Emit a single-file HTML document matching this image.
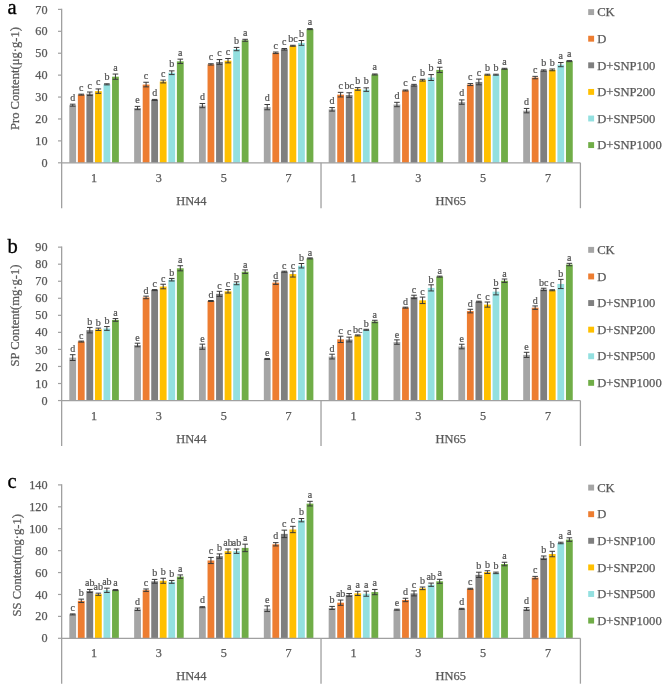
<!DOCTYPE html>
<html><head><meta charset="utf-8"><title>Chart</title>
<style>html,body{margin:0;padding:0;background:#fff;}body{width:669px;height:689px;overflow:hidden;}svg{display:block;filter:blur(0.35px);}text{font-family:"Liberation Serif", serif;}.t{fill:#595959;stroke:#595959;stroke-width:0.25px;}.l{fill:#505050;stroke:#505050;stroke-width:0.2px;}</style>
</head><body>
<svg width="669" height="689" viewBox="0 0 669 689">
<rect x="0" y="0" width="669" height="689" fill="#fff"/>
<text x="7.6" y="13.9" font-size="20.5" fill="#000" stroke="#000" stroke-width="0.35">a</text>
<text transform="translate(18.9 78.6) rotate(-90)" text-anchor="middle" font-size="12.6" class="t">Pro Content(μg·g-1)</text>
<text x="47.5" y="166.9" text-anchor="end" font-size="12.2" class="t">0</text>
<line x1="58" y1="162.8" x2="61.65" y2="162.8" stroke="#A0A0A0" stroke-width="1.2"/>
<text x="47.5" y="144.99" text-anchor="end" font-size="12.2" class="t">10</text>
<line x1="58" y1="140.89" x2="61.65" y2="140.89" stroke="#A0A0A0" stroke-width="1.2"/>
<text x="47.5" y="123.07" text-anchor="end" font-size="12.2" class="t">20</text>
<line x1="58" y1="118.97" x2="61.65" y2="118.97" stroke="#A0A0A0" stroke-width="1.2"/>
<text x="47.5" y="101.16" text-anchor="end" font-size="12.2" class="t">30</text>
<line x1="58" y1="97.06" x2="61.65" y2="97.06" stroke="#A0A0A0" stroke-width="1.2"/>
<text x="47.5" y="79.24" text-anchor="end" font-size="12.2" class="t">40</text>
<line x1="58" y1="75.14" x2="61.65" y2="75.14" stroke="#A0A0A0" stroke-width="1.2"/>
<text x="47.5" y="57.33" text-anchor="end" font-size="12.2" class="t">50</text>
<line x1="58" y1="53.23" x2="61.65" y2="53.23" stroke="#A0A0A0" stroke-width="1.2"/>
<text x="47.5" y="35.41" text-anchor="end" font-size="12.2" class="t">60</text>
<line x1="58" y1="31.31" x2="61.65" y2="31.31" stroke="#A0A0A0" stroke-width="1.2"/>
<text x="47.5" y="13.5" text-anchor="end" font-size="12.2" class="t">70</text>
<line x1="58" y1="9.4" x2="61.65" y2="9.4" stroke="#A0A0A0" stroke-width="1.2"/>
<rect x="69.3" y="105.17" width="6.8" height="57.63" fill="#A5A5A5"/>
<rect x="77.85" y="94.65" width="6.8" height="68.15" fill="#ED7D31"/>
<rect x="86.4" y="93.77" width="6.8" height="69.03" fill="#7F7F7F"/>
<rect x="94.95" y="91.14" width="6.8" height="71.66" fill="#FFC000"/>
<rect x="103.5" y="84.35" width="6.8" height="78.45" fill="#93E0E0"/>
<rect x="112.05" y="76.68" width="6.8" height="86.12" fill="#70AD47"/>
<path d="M69.9 104.18H75.5M72.7 104.18V106.15M69.9 106.15H75.5" stroke="#3A3A3A" stroke-width="1" fill="none"/>
<text x="72.7" y="100.68" text-anchor="middle" font-size="10" class="l">d</text>
<path d="M78.45 94.15H84.05M81.25 94.15V95.15M78.45 95.15H84.05" stroke="#3A3A3A" stroke-width="1" fill="none"/>
<text x="81.25" y="90.65" text-anchor="middle" font-size="10" class="l">c</text>
<path d="M87 92.02H92.6M89.8 92.02V95.52M87 95.52H92.6" stroke="#3A3A3A" stroke-width="1" fill="none"/>
<text x="89.8" y="88.52" text-anchor="middle" font-size="10" class="l">c</text>
<path d="M95.55 88.95H101.15M98.35 88.95V93.33M95.55 93.33H101.15" stroke="#3A3A3A" stroke-width="1" fill="none"/>
<text x="98.35" y="85.45" text-anchor="middle" font-size="10" class="l">c</text>
<path d="M104.1 83.8H109.7M106.9 83.8V84.89M104.1 84.89H109.7" stroke="#3A3A3A" stroke-width="1" fill="none"/>
<text x="106.9" y="80.3" text-anchor="middle" font-size="10" class="l">b</text>
<path d="M112.65 74.05H118.25M115.45 74.05V79.31M112.65 79.31H118.25" stroke="#3A3A3A" stroke-width="1" fill="none"/>
<text x="115.45" y="70.55" text-anchor="middle" font-size="10" class="l">a</text>
<rect x="134.14" y="108.01" width="6.8" height="54.79" fill="#A5A5A5"/>
<rect x="142.69" y="84.57" width="6.8" height="78.23" fill="#ED7D31"/>
<rect x="151.24" y="99.91" width="6.8" height="62.89" fill="#7F7F7F"/>
<rect x="159.79" y="81.5" width="6.8" height="81.3" fill="#FFC000"/>
<rect x="168.34" y="72.73" width="6.8" height="90.07" fill="#93E0E0"/>
<rect x="176.89" y="61.34" width="6.8" height="101.46" fill="#70AD47"/>
<path d="M134.74 106.37H140.34M137.54 106.37V109.66M134.74 109.66H140.34" stroke="#3A3A3A" stroke-width="1" fill="none"/>
<text x="137.54" y="102.87" text-anchor="middle" font-size="10" class="l">e</text>
<path d="M143.29 82.26H148.89M146.09 82.26V86.87M143.29 86.87H148.89" stroke="#3A3A3A" stroke-width="1" fill="none"/>
<text x="146.09" y="78.76" text-anchor="middle" font-size="10" class="l">c</text>
<path d="M151.84 99.41H157.44M154.64 99.41V100.41M151.84 100.41H157.44" stroke="#3A3A3A" stroke-width="1" fill="none"/>
<text x="154.64" y="95.91" text-anchor="middle" font-size="10" class="l">d</text>
<path d="M160.39 80.07H165.99M163.19 80.07V82.92M160.39 82.92H165.99" stroke="#3A3A3A" stroke-width="1" fill="none"/>
<text x="163.19" y="76.57" text-anchor="middle" font-size="10" class="l">c</text>
<path d="M168.94 70.87H174.54M171.74 70.87V74.59M168.94 74.59H174.54" stroke="#3A3A3A" stroke-width="1" fill="none"/>
<text x="171.74" y="67.37" text-anchor="middle" font-size="10" class="l">b</text>
<path d="M177.49 59.15H183.09M180.29 59.15V63.53M177.49 63.53H183.09" stroke="#3A3A3A" stroke-width="1" fill="none"/>
<text x="180.29" y="55.65" text-anchor="middle" font-size="10" class="l">a</text>
<rect x="198.98" y="105.6" width="6.8" height="57.2" fill="#A5A5A5"/>
<rect x="207.53" y="64.4" width="6.8" height="98.4" fill="#ED7D31"/>
<rect x="216.08" y="61.99" width="6.8" height="100.81" fill="#7F7F7F"/>
<rect x="224.63" y="60.68" width="6.8" height="102.12" fill="#FFC000"/>
<rect x="233.18" y="49.06" width="6.8" height="113.74" fill="#93E0E0"/>
<rect x="241.73" y="40.3" width="6.8" height="122.5" fill="#70AD47"/>
<path d="M199.58 103.52H205.18M202.38 103.52V107.69M199.58 107.69H205.18" stroke="#3A3A3A" stroke-width="1" fill="none"/>
<text x="202.38" y="100.02" text-anchor="middle" font-size="10" class="l">d</text>
<path d="M208.13 63.75H213.73M210.93 63.75V65.06M208.13 65.06H213.73" stroke="#3A3A3A" stroke-width="1" fill="none"/>
<text x="210.93" y="60.25" text-anchor="middle" font-size="10" class="l">c</text>
<path d="M216.68 59.58H222.28M219.48 59.58V64.4M216.68 64.4H222.28" stroke="#3A3A3A" stroke-width="1" fill="none"/>
<text x="219.48" y="56.08" text-anchor="middle" font-size="10" class="l">c</text>
<path d="M225.23 58.49H230.83M228.03 58.49V62.87M225.23 62.87H230.83" stroke="#3A3A3A" stroke-width="1" fill="none"/>
<text x="228.03" y="54.99" text-anchor="middle" font-size="10" class="l">c</text>
<path d="M233.78 47.42H239.38M236.58 47.42V50.71M233.78 50.71H239.38" stroke="#3A3A3A" stroke-width="1" fill="none"/>
<text x="236.58" y="43.92" text-anchor="middle" font-size="10" class="l">b</text>
<path d="M242.33 39.31H247.93M245.13 39.31V41.29M242.33 41.29H247.93" stroke="#3A3A3A" stroke-width="1" fill="none"/>
<text x="245.13" y="35.81" text-anchor="middle" font-size="10" class="l">a</text>
<rect x="263.83" y="107.14" width="6.8" height="55.66" fill="#A5A5A5"/>
<rect x="272.38" y="52.79" width="6.8" height="110.01" fill="#ED7D31"/>
<rect x="280.93" y="49.28" width="6.8" height="113.52" fill="#7F7F7F"/>
<rect x="289.48" y="45.78" width="6.8" height="117.02" fill="#FFC000"/>
<rect x="298.03" y="42.93" width="6.8" height="119.87" fill="#93E0E0"/>
<rect x="306.58" y="29.12" width="6.8" height="133.68" fill="#70AD47"/>
<path d="M264.43 104.51H270.03M267.23 104.51V109.77M264.43 109.77H270.03" stroke="#3A3A3A" stroke-width="1" fill="none"/>
<text x="267.23" y="101.01" text-anchor="middle" font-size="10" class="l">d</text>
<path d="M272.98 52.02H278.58M275.78 52.02V53.56M272.98 53.56H278.58" stroke="#3A3A3A" stroke-width="1" fill="none"/>
<text x="275.78" y="48.52" text-anchor="middle" font-size="10" class="l">c</text>
<path d="M281.53 48.52H287.13M284.33 48.52V50.05M281.53 50.05H287.13" stroke="#3A3A3A" stroke-width="1" fill="none"/>
<text x="284.33" y="45.02" text-anchor="middle" font-size="10" class="l">c</text>
<path d="M290.08 45.28H295.68M292.88 45.28V46.28M290.08 46.28H295.68" stroke="#3A3A3A" stroke-width="1" fill="none"/>
<text x="292.88" y="41.78" text-anchor="middle" font-size="10" class="l">bc</text>
<path d="M298.63 40.52H304.23M301.43 40.52V45.34M298.63 45.34H304.23" stroke="#3A3A3A" stroke-width="1" fill="none"/>
<text x="301.43" y="37.02" text-anchor="middle" font-size="10" class="l">b</text>
<path d="M307.18 28.62H312.78M309.98 28.62V29.62M307.18 29.62H312.78" stroke="#3A3A3A" stroke-width="1" fill="none"/>
<text x="309.98" y="25.12" text-anchor="middle" font-size="10" class="l">a</text>
<rect x="328.67" y="109.33" width="6.8" height="53.47" fill="#A5A5A5"/>
<rect x="337.22" y="94.65" width="6.8" height="68.15" fill="#ED7D31"/>
<rect x="345.77" y="95.08" width="6.8" height="67.72" fill="#7F7F7F"/>
<rect x="354.32" y="88.95" width="6.8" height="73.85" fill="#FFC000"/>
<rect x="362.87" y="89.61" width="6.8" height="73.19" fill="#93E0E0"/>
<rect x="371.42" y="74.49" width="6.8" height="88.31" fill="#70AD47"/>
<path d="M329.27 107.58H334.87M332.07 107.58V111.08M329.27 111.08H334.87" stroke="#3A3A3A" stroke-width="1" fill="none"/>
<text x="332.07" y="104.08" text-anchor="middle" font-size="10" class="l">d</text>
<path d="M337.82 92.35H343.42M340.62 92.35V96.95M337.82 96.95H343.42" stroke="#3A3A3A" stroke-width="1" fill="none"/>
<text x="340.62" y="88.85" text-anchor="middle" font-size="10" class="l">c</text>
<path d="M346.37 92.78H351.97M349.17 92.78V97.39M346.37 97.39H351.97" stroke="#3A3A3A" stroke-width="1" fill="none"/>
<text x="349.17" y="89.28" text-anchor="middle" font-size="10" class="l">bc</text>
<path d="M354.92 87.63H360.52M357.72 87.63V90.26M354.92 90.26H360.52" stroke="#3A3A3A" stroke-width="1" fill="none"/>
<text x="357.72" y="84.13" text-anchor="middle" font-size="10" class="l">b</text>
<path d="M363.47 87.85H369.07M366.27 87.85V91.36M363.47 91.36H369.07" stroke="#3A3A3A" stroke-width="1" fill="none"/>
<text x="366.27" y="84.35" text-anchor="middle" font-size="10" class="l">b</text>
<path d="M372.02 73.99H377.62M374.82 73.99V74.99M372.02 74.99H377.62" stroke="#3A3A3A" stroke-width="1" fill="none"/>
<text x="374.82" y="70.49" text-anchor="middle" font-size="10" class="l">a</text>
<rect x="393.52" y="104.51" width="6.8" height="58.29" fill="#A5A5A5"/>
<rect x="402.07" y="90.48" width="6.8" height="72.32" fill="#ED7D31"/>
<rect x="410.62" y="85.22" width="6.8" height="77.58" fill="#7F7F7F"/>
<rect x="419.17" y="80.18" width="6.8" height="82.62" fill="#FFC000"/>
<rect x="427.72" y="77.55" width="6.8" height="85.25" fill="#93E0E0"/>
<rect x="436.27" y="69.88" width="6.8" height="92.92" fill="#70AD47"/>
<path d="M394.12 102.32H399.72M396.92 102.32V106.7M394.12 106.7H399.72" stroke="#3A3A3A" stroke-width="1" fill="none"/>
<text x="396.92" y="98.82" text-anchor="middle" font-size="10" class="l">d</text>
<path d="M402.67 89.98H408.27M405.47 89.98V90.98M402.67 90.98H408.27" stroke="#3A3A3A" stroke-width="1" fill="none"/>
<text x="405.47" y="86.48" text-anchor="middle" font-size="10" class="l">c</text>
<path d="M411.22 84.35H416.82M414.02 84.35V86.1M411.22 86.1H416.82" stroke="#3A3A3A" stroke-width="1" fill="none"/>
<text x="414.02" y="80.85" text-anchor="middle" font-size="10" class="l">c</text>
<path d="M419.77 79.31H425.37M422.57 79.31V81.06M419.77 81.06H425.37" stroke="#3A3A3A" stroke-width="1" fill="none"/>
<text x="422.57" y="75.81" text-anchor="middle" font-size="10" class="l">b</text>
<path d="M428.32 74.59H433.92M431.12 74.59V80.51M428.32 80.51H433.92" stroke="#3A3A3A" stroke-width="1" fill="none"/>
<text x="431.12" y="71.09" text-anchor="middle" font-size="10" class="l">b</text>
<path d="M436.87 67.25H442.47M439.67 67.25V72.51M436.87 72.51H442.47" stroke="#3A3A3A" stroke-width="1" fill="none"/>
<text x="439.67" y="63.75" text-anchor="middle" font-size="10" class="l">a</text>
<rect x="458.36" y="102.1" width="6.8" height="60.7" fill="#A5A5A5"/>
<rect x="466.91" y="84.57" width="6.8" height="78.23" fill="#ED7D31"/>
<rect x="475.46" y="81.94" width="6.8" height="80.86" fill="#7F7F7F"/>
<rect x="484.01" y="74.7" width="6.8" height="88.1" fill="#FFC000"/>
<rect x="492.56" y="74.7" width="6.8" height="88.1" fill="#93E0E0"/>
<rect x="501.11" y="68.79" width="6.8" height="94.01" fill="#70AD47"/>
<path d="M458.96 99.91H464.56M461.76 99.91V104.29M458.96 104.29H464.56" stroke="#3A3A3A" stroke-width="1" fill="none"/>
<text x="461.76" y="96.41" text-anchor="middle" font-size="10" class="l">d</text>
<path d="M467.51 83.58H473.11M470.31 83.58V85.55M467.51 85.55H473.11" stroke="#3A3A3A" stroke-width="1" fill="none"/>
<text x="470.31" y="80.08" text-anchor="middle" font-size="10" class="l">c</text>
<path d="M476.06 79.09H481.66M478.86 79.09V84.79M476.06 84.79H481.66" stroke="#3A3A3A" stroke-width="1" fill="none"/>
<text x="478.86" y="75.59" text-anchor="middle" font-size="10" class="l">c</text>
<path d="M484.61 74.2H490.21M487.41 74.2V75.2M484.61 75.2H490.21" stroke="#3A3A3A" stroke-width="1" fill="none"/>
<text x="487.41" y="70.7" text-anchor="middle" font-size="10" class="l">b</text>
<path d="M493.16 74.2H498.76M495.96 74.2V75.2M493.16 75.2H498.76" stroke="#3A3A3A" stroke-width="1" fill="none"/>
<text x="495.96" y="70.7" text-anchor="middle" font-size="10" class="l">b</text>
<path d="M501.71 68.29H507.31M504.51 68.29V69.29M501.71 69.29H507.31" stroke="#3A3A3A" stroke-width="1" fill="none"/>
<text x="504.51" y="64.79" text-anchor="middle" font-size="10" class="l">a</text>
<rect x="523.2" y="110.64" width="6.8" height="52.16" fill="#A5A5A5"/>
<rect x="531.75" y="77.55" width="6.8" height="85.25" fill="#ED7D31"/>
<rect x="540.3" y="70.54" width="6.8" height="92.26" fill="#7F7F7F"/>
<rect x="548.85" y="69.88" width="6.8" height="92.92" fill="#FFC000"/>
<rect x="557.4" y="64.62" width="6.8" height="98.18" fill="#93E0E0"/>
<rect x="565.95" y="61.12" width="6.8" height="101.68" fill="#70AD47"/>
<path d="M523.8 108.45H529.4M526.6 108.45V112.84M523.8 112.84H529.4" stroke="#3A3A3A" stroke-width="1" fill="none"/>
<text x="526.6" y="104.95" text-anchor="middle" font-size="10" class="l">d</text>
<path d="M532.35 76.35H537.95M535.15 76.35V78.76M532.35 78.76H537.95" stroke="#3A3A3A" stroke-width="1" fill="none"/>
<text x="535.15" y="72.85" text-anchor="middle" font-size="10" class="l">c</text>
<path d="M540.9 69.88H546.5M543.7 69.88V71.2M540.9 71.2H546.5" stroke="#3A3A3A" stroke-width="1" fill="none"/>
<text x="543.7" y="66.38" text-anchor="middle" font-size="10" class="l">b</text>
<path d="M549.45 69.01H555.05M552.25 69.01V70.76M549.45 70.76H555.05" stroke="#3A3A3A" stroke-width="1" fill="none"/>
<text x="552.25" y="65.51" text-anchor="middle" font-size="10" class="l">b</text>
<path d="M558 62.54H563.6M560.8 62.54V66.71M558 66.71H563.6" stroke="#3A3A3A" stroke-width="1" fill="none"/>
<text x="560.8" y="59.04" text-anchor="middle" font-size="10" class="l">a</text>
<path d="M566.55 60.62H572.15M569.35 60.62V61.62M566.55 61.62H572.15" stroke="#3A3A3A" stroke-width="1" fill="none"/>
<text x="569.35" y="57.12" text-anchor="middle" font-size="10" class="l">a</text>
<line x1="61.65" y1="8.8" x2="61.65" y2="208.2" stroke="#A0A0A0" stroke-width="1.3"/>
<line x1="61.65" y1="162.8" x2="580.4" y2="162.8" stroke="#A0A0A0" stroke-width="1.3"/>
<line x1="321.02" y1="162.8" x2="321.02" y2="208.2" stroke="#A0A0A0" stroke-width="1.3"/>
<line x1="580.4" y1="162.8" x2="580.4" y2="208.2" stroke="#A0A0A0" stroke-width="1.3"/>
<text x="94.07" y="182.2" text-anchor="middle" font-size="12.2" class="t">1</text>
<text x="158.92" y="182.2" text-anchor="middle" font-size="12.2" class="t">3</text>
<text x="223.76" y="182.2" text-anchor="middle" font-size="12.2" class="t">5</text>
<text x="288.6" y="182.2" text-anchor="middle" font-size="12.2" class="t">7</text>
<text x="353.45" y="182.2" text-anchor="middle" font-size="12.2" class="t">1</text>
<text x="418.29" y="182.2" text-anchor="middle" font-size="12.2" class="t">3</text>
<text x="483.13" y="182.2" text-anchor="middle" font-size="12.2" class="t">5</text>
<text x="547.98" y="182.2" text-anchor="middle" font-size="12.2" class="t">7</text>
<text x="191.34" y="205.2" text-anchor="middle" font-size="12.4" class="t">HN44</text>
<text x="450.71" y="205.2" text-anchor="middle" font-size="12.4" class="t">HN65</text>
<rect x="588.2" y="9.15" width="5.9" height="5.9" fill="#A5A5A5"/>
<text x="597.2" y="16.3" font-size="12.6" class="t">CK</text>
<rect x="588.2" y="35.75" width="5.9" height="5.9" fill="#ED7D31"/>
<text x="597.2" y="42.9" font-size="12.6" class="t">D</text>
<rect x="588.2" y="62.35" width="5.9" height="5.9" fill="#7F7F7F"/>
<text x="597.2" y="69.5" font-size="12.6" class="t">D+SNP100</text>
<rect x="588.2" y="88.95" width="5.9" height="5.9" fill="#FFC000"/>
<text x="597.2" y="96.1" font-size="12.6" class="t">D+SNP200</text>
<rect x="588.2" y="115.55" width="5.9" height="5.9" fill="#93E0E0"/>
<text x="597.2" y="122.7" font-size="12.6" class="t">D+SNP500</text>
<rect x="588.2" y="142.15" width="5.9" height="5.9" fill="#70AD47"/>
<text x="597.2" y="149.3" font-size="12.6" class="t">D+SNP1000</text>
<text x="7.6" y="253.05" font-size="20.5" fill="#000" stroke="#000" stroke-width="0.35">b</text>
<text transform="translate(19.1 315.5) rotate(-90)" text-anchor="middle" font-size="12.6" class="t">SP Content(mg·g-1)</text>
<text x="47.5" y="404.65" text-anchor="end" font-size="12.2" class="t">0</text>
<line x1="58" y1="400.55" x2="61.65" y2="400.55" stroke="#A0A0A0" stroke-width="1.2"/>
<text x="47.5" y="387.61" text-anchor="end" font-size="12.2" class="t">10</text>
<line x1="58" y1="383.51" x2="61.65" y2="383.51" stroke="#A0A0A0" stroke-width="1.2"/>
<text x="47.5" y="370.56" text-anchor="end" font-size="12.2" class="t">20</text>
<line x1="58" y1="366.46" x2="61.65" y2="366.46" stroke="#A0A0A0" stroke-width="1.2"/>
<text x="47.5" y="353.52" text-anchor="end" font-size="12.2" class="t">30</text>
<line x1="58" y1="349.42" x2="61.65" y2="349.42" stroke="#A0A0A0" stroke-width="1.2"/>
<text x="47.5" y="336.47" text-anchor="end" font-size="12.2" class="t">40</text>
<line x1="58" y1="332.37" x2="61.65" y2="332.37" stroke="#A0A0A0" stroke-width="1.2"/>
<text x="47.5" y="319.43" text-anchor="end" font-size="12.2" class="t">50</text>
<line x1="58" y1="315.33" x2="61.65" y2="315.33" stroke="#A0A0A0" stroke-width="1.2"/>
<text x="47.5" y="302.38" text-anchor="end" font-size="12.2" class="t">60</text>
<line x1="58" y1="298.28" x2="61.65" y2="298.28" stroke="#A0A0A0" stroke-width="1.2"/>
<text x="47.5" y="285.34" text-anchor="end" font-size="12.2" class="t">70</text>
<line x1="58" y1="281.24" x2="61.65" y2="281.24" stroke="#A0A0A0" stroke-width="1.2"/>
<text x="47.5" y="268.29" text-anchor="end" font-size="12.2" class="t">80</text>
<line x1="58" y1="264.19" x2="61.65" y2="264.19" stroke="#A0A0A0" stroke-width="1.2"/>
<text x="47.5" y="251.25" text-anchor="end" font-size="12.2" class="t">90</text>
<line x1="58" y1="247.15" x2="61.65" y2="247.15" stroke="#A0A0A0" stroke-width="1.2"/>
<rect x="69.3" y="357.6" width="6.8" height="42.95" fill="#A5A5A5"/>
<rect x="77.85" y="341.58" width="6.8" height="58.97" fill="#ED7D31"/>
<rect x="86.4" y="330.16" width="6.8" height="70.39" fill="#7F7F7F"/>
<rect x="94.95" y="329.3" width="6.8" height="71.25" fill="#FFC000"/>
<rect x="103.5" y="328.45" width="6.8" height="72.1" fill="#93E0E0"/>
<rect x="112.05" y="319.93" width="6.8" height="80.62" fill="#70AD47"/>
<path d="M69.9 354.7H75.5M72.7 354.7V360.5M69.9 360.5H75.5" stroke="#3A3A3A" stroke-width="1" fill="none"/>
<text x="72.7" y="352.4" text-anchor="middle" font-size="10" class="l">d</text>
<path d="M78.45 341.08H84.05M81.25 341.08V342.08M78.45 342.08H84.05" stroke="#3A3A3A" stroke-width="1" fill="none"/>
<text x="81.25" y="338.78" text-anchor="middle" font-size="10" class="l">c</text>
<path d="M87 327.43H92.6M89.8 327.43V332.88M87 332.88H92.6" stroke="#3A3A3A" stroke-width="1" fill="none"/>
<text x="89.8" y="325.13" text-anchor="middle" font-size="10" class="l">b</text>
<path d="M95.55 328.11H101.15M98.35 328.11V330.5M95.55 330.5H101.15" stroke="#3A3A3A" stroke-width="1" fill="none"/>
<text x="98.35" y="325.81" text-anchor="middle" font-size="10" class="l">b</text>
<path d="M104.1 326.58H109.7M106.9 326.58V330.33M104.1 330.33H109.7" stroke="#3A3A3A" stroke-width="1" fill="none"/>
<text x="106.9" y="324.28" text-anchor="middle" font-size="10" class="l">b</text>
<path d="M112.65 318.57H118.25M115.45 318.57V321.29M112.65 321.29H118.25" stroke="#3A3A3A" stroke-width="1" fill="none"/>
<text x="115.45" y="316.27" text-anchor="middle" font-size="10" class="l">a</text>
<rect x="134.14" y="344.99" width="6.8" height="55.56" fill="#A5A5A5"/>
<rect x="142.69" y="297.43" width="6.8" height="103.12" fill="#ED7D31"/>
<rect x="151.24" y="290.1" width="6.8" height="110.45" fill="#7F7F7F"/>
<rect x="159.79" y="286.52" width="6.8" height="114.03" fill="#FFC000"/>
<rect x="168.34" y="279.7" width="6.8" height="120.85" fill="#93E0E0"/>
<rect x="176.89" y="268.29" width="6.8" height="132.26" fill="#70AD47"/>
<path d="M134.74 343.2H140.34M137.54 343.2V346.77M134.74 346.77H140.34" stroke="#3A3A3A" stroke-width="1" fill="none"/>
<text x="137.54" y="340.9" text-anchor="middle" font-size="10" class="l">e</text>
<path d="M143.29 296.15H148.89M146.09 296.15V298.71M143.29 298.71H148.89" stroke="#3A3A3A" stroke-width="1" fill="none"/>
<text x="146.09" y="293.85" text-anchor="middle" font-size="10" class="l">d</text>
<path d="M151.84 289.6H157.44M154.64 289.6V290.6M151.84 290.6H157.44" stroke="#3A3A3A" stroke-width="1" fill="none"/>
<text x="154.64" y="287.3" text-anchor="middle" font-size="10" class="l">c</text>
<path d="M160.39 284.22H165.99M163.19 284.22V288.82M160.39 288.82H165.99" stroke="#3A3A3A" stroke-width="1" fill="none"/>
<text x="163.19" y="281.92" text-anchor="middle" font-size="10" class="l">c</text>
<path d="M168.94 278.43H174.54M171.74 278.43V280.98M168.94 280.98H174.54" stroke="#3A3A3A" stroke-width="1" fill="none"/>
<text x="171.74" y="276.13" text-anchor="middle" font-size="10" class="l">b</text>
<path d="M177.49 265.73H183.09M180.29 265.73V270.84M177.49 270.84H183.09" stroke="#3A3A3A" stroke-width="1" fill="none"/>
<text x="180.29" y="263.43" text-anchor="middle" font-size="10" class="l">a</text>
<rect x="198.98" y="346.69" width="6.8" height="53.86" fill="#A5A5A5"/>
<rect x="207.53" y="301.01" width="6.8" height="99.54" fill="#ED7D31"/>
<rect x="216.08" y="293.85" width="6.8" height="106.7" fill="#7F7F7F"/>
<rect x="224.63" y="291.3" width="6.8" height="109.25" fill="#FFC000"/>
<rect x="233.18" y="283.28" width="6.8" height="117.27" fill="#93E0E0"/>
<rect x="241.73" y="271.69" width="6.8" height="128.86" fill="#70AD47"/>
<path d="M199.58 344.13H205.18M202.38 344.13V349.25M199.58 349.25H205.18" stroke="#3A3A3A" stroke-width="1" fill="none"/>
<text x="202.38" y="341.83" text-anchor="middle" font-size="10" class="l">e</text>
<path d="M208.13 300.51H213.73M210.93 300.51V301.51M208.13 301.51H213.73" stroke="#3A3A3A" stroke-width="1" fill="none"/>
<text x="210.93" y="298.21" text-anchor="middle" font-size="10" class="l">d</text>
<path d="M216.68 291.3H222.28M219.48 291.3V296.41M216.68 296.41H222.28" stroke="#3A3A3A" stroke-width="1" fill="none"/>
<text x="219.48" y="289" text-anchor="middle" font-size="10" class="l">c</text>
<path d="M225.23 289.59H230.83M228.03 289.59V293M225.23 293H230.83" stroke="#3A3A3A" stroke-width="1" fill="none"/>
<text x="228.03" y="287.29" text-anchor="middle" font-size="10" class="l">c</text>
<path d="M233.78 281.84H239.38M236.58 281.84V284.73M233.78 284.73H239.38" stroke="#3A3A3A" stroke-width="1" fill="none"/>
<text x="236.58" y="279.54" text-anchor="middle" font-size="10" class="l">b</text>
<path d="M242.33 269.9H247.93M245.13 269.9V273.48M242.33 273.48H247.93" stroke="#3A3A3A" stroke-width="1" fill="none"/>
<text x="245.13" y="267.6" text-anchor="middle" font-size="10" class="l">a</text>
<rect x="263.83" y="358.96" width="6.8" height="41.59" fill="#A5A5A5"/>
<rect x="272.38" y="282.6" width="6.8" height="117.95" fill="#ED7D31"/>
<rect x="280.93" y="271.69" width="6.8" height="128.86" fill="#7F7F7F"/>
<rect x="289.48" y="274.08" width="6.8" height="126.47" fill="#FFC000"/>
<rect x="298.03" y="265.73" width="6.8" height="134.82" fill="#93E0E0"/>
<rect x="306.58" y="258.4" width="6.8" height="142.15" fill="#70AD47"/>
<path d="M264.43 358.46H270.03M267.23 358.46V359.46M264.43 359.46H270.03" stroke="#3A3A3A" stroke-width="1" fill="none"/>
<text x="267.23" y="356.16" text-anchor="middle" font-size="10" class="l">e</text>
<path d="M272.98 280.81H278.58M275.78 280.81V284.39M272.98 284.39H278.58" stroke="#3A3A3A" stroke-width="1" fill="none"/>
<text x="275.78" y="278.51" text-anchor="middle" font-size="10" class="l">d</text>
<path d="M281.53 271.18H287.13M284.33 271.18V272.21M281.53 272.21H287.13" stroke="#3A3A3A" stroke-width="1" fill="none"/>
<text x="284.33" y="268.88" text-anchor="middle" font-size="10" class="l">c</text>
<path d="M290.08 271.1H295.68M292.88 271.1V277.06M290.08 277.06H295.68" stroke="#3A3A3A" stroke-width="1" fill="none"/>
<text x="292.88" y="268.8" text-anchor="middle" font-size="10" class="l">c</text>
<path d="M298.63 263.51H304.23M301.43 263.51V267.94M298.63 267.94H304.23" stroke="#3A3A3A" stroke-width="1" fill="none"/>
<text x="301.43" y="261.21" text-anchor="middle" font-size="10" class="l">b</text>
<path d="M307.18 257.9H312.78M309.98 257.9V258.9M307.18 258.9H312.78" stroke="#3A3A3A" stroke-width="1" fill="none"/>
<text x="309.98" y="255.6" text-anchor="middle" font-size="10" class="l">a</text>
<rect x="328.67" y="356.58" width="6.8" height="43.97" fill="#A5A5A5"/>
<rect x="337.22" y="339.36" width="6.8" height="61.19" fill="#ED7D31"/>
<rect x="345.77" y="339.53" width="6.8" height="61.02" fill="#7F7F7F"/>
<rect x="354.32" y="335.44" width="6.8" height="65.11" fill="#FFC000"/>
<rect x="362.87" y="329.82" width="6.8" height="70.73" fill="#93E0E0"/>
<rect x="371.42" y="321.46" width="6.8" height="79.09" fill="#70AD47"/>
<path d="M329.27 354.19H334.87M332.07 354.19V358.96M329.27 358.96H334.87" stroke="#3A3A3A" stroke-width="1" fill="none"/>
<text x="332.07" y="351.89" text-anchor="middle" font-size="10" class="l">d</text>
<path d="M337.82 336.21H343.42M340.62 336.21V342.51M337.82 342.51H343.42" stroke="#3A3A3A" stroke-width="1" fill="none"/>
<text x="340.62" y="333.91" text-anchor="middle" font-size="10" class="l">c</text>
<path d="M346.37 337.14H351.97M349.17 337.14V341.92M346.37 341.92H351.97" stroke="#3A3A3A" stroke-width="1" fill="none"/>
<text x="349.17" y="334.84" text-anchor="middle" font-size="10" class="l">c</text>
<path d="M354.92 334.93H360.52M357.72 334.93V335.95M354.92 335.95H360.52" stroke="#3A3A3A" stroke-width="1" fill="none"/>
<text x="357.72" y="332.63" text-anchor="middle" font-size="10" class="l">bc</text>
<path d="M363.47 329.3H369.07M366.27 329.3V330.33M363.47 330.33H369.07" stroke="#3A3A3A" stroke-width="1" fill="none"/>
<text x="366.27" y="327" text-anchor="middle" font-size="10" class="l">b</text>
<path d="M372.02 320.27H377.62M374.82 320.27V322.66M372.02 322.66H377.62" stroke="#3A3A3A" stroke-width="1" fill="none"/>
<text x="374.82" y="317.97" text-anchor="middle" font-size="10" class="l">a</text>
<rect x="393.52" y="342.09" width="6.8" height="58.46" fill="#A5A5A5"/>
<rect x="402.07" y="307.66" width="6.8" height="92.89" fill="#ED7D31"/>
<rect x="410.62" y="296.92" width="6.8" height="103.63" fill="#7F7F7F"/>
<rect x="419.17" y="300.33" width="6.8" height="100.22" fill="#FFC000"/>
<rect x="427.72" y="287.89" width="6.8" height="112.66" fill="#93E0E0"/>
<rect x="436.27" y="276.64" width="6.8" height="123.91" fill="#70AD47"/>
<path d="M394.12 339.87H399.72M396.92 339.87V344.3M394.12 344.3H399.72" stroke="#3A3A3A" stroke-width="1" fill="none"/>
<text x="396.92" y="337.57" text-anchor="middle" font-size="10" class="l">e</text>
<path d="M402.67 307.16H408.27M405.47 307.16V308.16M402.67 308.16H408.27" stroke="#3A3A3A" stroke-width="1" fill="none"/>
<text x="405.47" y="304.86" text-anchor="middle" font-size="10" class="l">d</text>
<path d="M411.22 295.22H416.82M414.02 295.22V298.62M411.22 298.62H416.82" stroke="#3A3A3A" stroke-width="1" fill="none"/>
<text x="414.02" y="292.92" text-anchor="middle" font-size="10" class="l">c</text>
<path d="M419.77 297.09H425.37M422.57 297.09V303.57M419.77 303.57H425.37" stroke="#3A3A3A" stroke-width="1" fill="none"/>
<text x="422.57" y="294.79" text-anchor="middle" font-size="10" class="l">c</text>
<path d="M428.32 284.82H433.92M431.12 284.82V290.95M428.32 290.95H433.92" stroke="#3A3A3A" stroke-width="1" fill="none"/>
<text x="431.12" y="282.52" text-anchor="middle" font-size="10" class="l">b</text>
<path d="M436.87 276.14H442.47M439.67 276.14V277.14M436.87 277.14H442.47" stroke="#3A3A3A" stroke-width="1" fill="none"/>
<text x="439.67" y="273.84" text-anchor="middle" font-size="10" class="l">a</text>
<rect x="458.36" y="346.52" width="6.8" height="54.03" fill="#A5A5A5"/>
<rect x="466.91" y="311.07" width="6.8" height="89.48" fill="#ED7D31"/>
<rect x="475.46" y="301.69" width="6.8" height="98.86" fill="#7F7F7F"/>
<rect x="484.01" y="304.59" width="6.8" height="95.96" fill="#FFC000"/>
<rect x="492.56" y="291.64" width="6.8" height="108.91" fill="#93E0E0"/>
<rect x="501.11" y="280.73" width="6.8" height="119.82" fill="#70AD47"/>
<path d="M458.96 344.22H464.56M461.76 344.22V348.82M458.96 348.82H464.56" stroke="#3A3A3A" stroke-width="1" fill="none"/>
<text x="461.76" y="341.92" text-anchor="middle" font-size="10" class="l">e</text>
<path d="M467.51 309.28H473.11M470.31 309.28V312.86M467.51 312.86H473.11" stroke="#3A3A3A" stroke-width="1" fill="none"/>
<text x="470.31" y="306.98" text-anchor="middle" font-size="10" class="l">d</text>
<path d="M476.06 301.18H481.66M478.86 301.18V302.2M476.06 302.2H481.66" stroke="#3A3A3A" stroke-width="1" fill="none"/>
<text x="478.86" y="298.88" text-anchor="middle" font-size="10" class="l">c</text>
<path d="M484.61 302.03H490.21M487.41 302.03V307.15M484.61 307.15H490.21" stroke="#3A3A3A" stroke-width="1" fill="none"/>
<text x="487.41" y="299.73" text-anchor="middle" font-size="10" class="l">c</text>
<path d="M493.16 288.4H498.76M495.96 288.4V294.87M493.16 294.87H498.76" stroke="#3A3A3A" stroke-width="1" fill="none"/>
<text x="495.96" y="286.1" text-anchor="middle" font-size="10" class="l">b</text>
<path d="M501.71 279.02H507.31M504.51 279.02V282.43M501.71 282.43H507.31" stroke="#3A3A3A" stroke-width="1" fill="none"/>
<text x="504.51" y="276.72" text-anchor="middle" font-size="10" class="l">a</text>
<rect x="523.2" y="354.87" width="6.8" height="45.68" fill="#A5A5A5"/>
<rect x="531.75" y="307.66" width="6.8" height="92.89" fill="#ED7D31"/>
<rect x="540.3" y="289.42" width="6.8" height="111.13" fill="#7F7F7F"/>
<rect x="548.85" y="290.27" width="6.8" height="110.28" fill="#FFC000"/>
<rect x="557.4" y="283.97" width="6.8" height="116.58" fill="#93E0E0"/>
<rect x="565.95" y="264.54" width="6.8" height="136.01" fill="#70AD47"/>
<path d="M523.8 352.31H529.4M526.6 352.31V357.43M523.8 357.43H529.4" stroke="#3A3A3A" stroke-width="1" fill="none"/>
<text x="526.6" y="350.01" text-anchor="middle" font-size="10" class="l">e</text>
<path d="M532.35 305.95H537.95M535.15 305.95V309.36M532.35 309.36H537.95" stroke="#3A3A3A" stroke-width="1" fill="none"/>
<text x="535.15" y="303.65" text-anchor="middle" font-size="10" class="l">d</text>
<path d="M540.9 288.23H546.5M543.7 288.23V290.61M540.9 290.61H546.5" stroke="#3A3A3A" stroke-width="1" fill="none"/>
<text x="543.7" y="285.93" text-anchor="middle" font-size="10" class="l">bc</text>
<path d="M549.45 289.76H555.05M552.25 289.76V290.78M549.45 290.78H555.05" stroke="#3A3A3A" stroke-width="1" fill="none"/>
<text x="552.25" y="287.46" text-anchor="middle" font-size="10" class="l">c</text>
<path d="M558 279.36H563.6M560.8 279.36V288.57M558 288.57H563.6" stroke="#3A3A3A" stroke-width="1" fill="none"/>
<text x="560.8" y="277.06" text-anchor="middle" font-size="10" class="l">b</text>
<path d="M566.55 263.34H572.15M569.35 263.34V265.73M566.55 265.73H572.15" stroke="#3A3A3A" stroke-width="1" fill="none"/>
<text x="569.35" y="261.04" text-anchor="middle" font-size="10" class="l">a</text>
<line x1="61.65" y1="246.55" x2="61.65" y2="445.95" stroke="#A0A0A0" stroke-width="1.3"/>
<line x1="61.65" y1="400.55" x2="580.4" y2="400.55" stroke="#A0A0A0" stroke-width="1.3"/>
<line x1="321.02" y1="400.55" x2="321.02" y2="445.95" stroke="#A0A0A0" stroke-width="1.3"/>
<line x1="580.4" y1="400.55" x2="580.4" y2="445.95" stroke="#A0A0A0" stroke-width="1.3"/>
<text x="94.07" y="419.95" text-anchor="middle" font-size="12.2" class="t">1</text>
<text x="158.92" y="419.95" text-anchor="middle" font-size="12.2" class="t">3</text>
<text x="223.76" y="419.95" text-anchor="middle" font-size="12.2" class="t">5</text>
<text x="288.6" y="419.95" text-anchor="middle" font-size="12.2" class="t">7</text>
<text x="353.45" y="419.95" text-anchor="middle" font-size="12.2" class="t">1</text>
<text x="418.29" y="419.95" text-anchor="middle" font-size="12.2" class="t">3</text>
<text x="483.13" y="419.95" text-anchor="middle" font-size="12.2" class="t">5</text>
<text x="547.98" y="419.95" text-anchor="middle" font-size="12.2" class="t">7</text>
<text x="191.34" y="442.95" text-anchor="middle" font-size="12.4" class="t">HN44</text>
<text x="450.71" y="442.95" text-anchor="middle" font-size="12.4" class="t">HN65</text>
<rect x="588.2" y="246.9" width="5.9" height="5.9" fill="#A5A5A5"/>
<text x="597.2" y="254.05" font-size="12.6" class="t">CK</text>
<rect x="588.2" y="273.5" width="5.9" height="5.9" fill="#ED7D31"/>
<text x="597.2" y="280.65" font-size="12.6" class="t">D</text>
<rect x="588.2" y="300.1" width="5.9" height="5.9" fill="#7F7F7F"/>
<text x="597.2" y="307.25" font-size="12.6" class="t">D+SNP100</text>
<rect x="588.2" y="326.7" width="5.9" height="5.9" fill="#FFC000"/>
<text x="597.2" y="333.85" font-size="12.6" class="t">D+SNP200</text>
<rect x="588.2" y="353.3" width="5.9" height="5.9" fill="#93E0E0"/>
<text x="597.2" y="360.45" font-size="12.6" class="t">D+SNP500</text>
<rect x="588.2" y="379.9" width="5.9" height="5.9" fill="#70AD47"/>
<text x="597.2" y="387.05" font-size="12.6" class="t">D+SNP1000</text>
<text x="7.6" y="488.4" font-size="20.5" fill="#000" stroke="#000" stroke-width="0.35">c</text>
<text transform="translate(20.7 565.2) rotate(-90)" text-anchor="middle" font-size="12.6" class="t">SS Content(mg·g-1)</text>
<text x="47.5" y="642.4" text-anchor="end" font-size="12.2" class="t">0</text>
<line x1="58" y1="638.3" x2="61.65" y2="638.3" stroke="#A0A0A0" stroke-width="1.2"/>
<text x="47.5" y="620.49" text-anchor="end" font-size="12.2" class="t">20</text>
<line x1="58" y1="616.39" x2="61.65" y2="616.39" stroke="#A0A0A0" stroke-width="1.2"/>
<text x="47.5" y="598.57" text-anchor="end" font-size="12.2" class="t">40</text>
<line x1="58" y1="594.47" x2="61.65" y2="594.47" stroke="#A0A0A0" stroke-width="1.2"/>
<text x="47.5" y="576.66" text-anchor="end" font-size="12.2" class="t">60</text>
<line x1="58" y1="572.56" x2="61.65" y2="572.56" stroke="#A0A0A0" stroke-width="1.2"/>
<text x="47.5" y="554.74" text-anchor="end" font-size="12.2" class="t">80</text>
<line x1="58" y1="550.64" x2="61.65" y2="550.64" stroke="#A0A0A0" stroke-width="1.2"/>
<text x="47.5" y="532.83" text-anchor="end" font-size="12.2" class="t">100</text>
<line x1="58" y1="528.73" x2="61.65" y2="528.73" stroke="#A0A0A0" stroke-width="1.2"/>
<text x="47.5" y="510.91" text-anchor="end" font-size="12.2" class="t">120</text>
<line x1="58" y1="506.81" x2="61.65" y2="506.81" stroke="#A0A0A0" stroke-width="1.2"/>
<text x="47.5" y="489" text-anchor="end" font-size="12.2" class="t">140</text>
<line x1="58" y1="484.9" x2="61.65" y2="484.9" stroke="#A0A0A0" stroke-width="1.2"/>
<rect x="69.3" y="614.41" width="6.8" height="23.89" fill="#A5A5A5"/>
<rect x="77.85" y="600.83" width="6.8" height="37.47" fill="#ED7D31"/>
<rect x="86.4" y="590.97" width="6.8" height="47.33" fill="#7F7F7F"/>
<rect x="94.95" y="594.25" width="6.8" height="44.05" fill="#FFC000"/>
<rect x="103.5" y="590.31" width="6.8" height="47.99" fill="#93E0E0"/>
<rect x="112.05" y="590.09" width="6.8" height="48.21" fill="#70AD47"/>
<path d="M69.9 613.91H75.5M72.7 613.91V614.91M69.9 614.91H75.5" stroke="#3A3A3A" stroke-width="1" fill="none"/>
<text x="72.7" y="610.71" text-anchor="middle" font-size="10" class="l">c</text>
<path d="M78.45 599.13H84.05M81.25 599.13V602.52M78.45 602.52H84.05" stroke="#3A3A3A" stroke-width="1" fill="none"/>
<text x="81.25" y="595.93" text-anchor="middle" font-size="10" class="l">b</text>
<path d="M87 589.43H92.6M89.8 589.43V592.5M87 592.5H92.6" stroke="#3A3A3A" stroke-width="1" fill="none"/>
<text x="89.8" y="586.23" text-anchor="middle" font-size="10" class="l">ab</text>
<path d="M95.55 593.16H101.15M98.35 593.16V595.35M95.55 595.35H101.15" stroke="#3A3A3A" stroke-width="1" fill="none"/>
<text x="98.35" y="589.96" text-anchor="middle" font-size="10" class="l">ab</text>
<path d="M104.1 588.17H109.7M106.9 588.17V592.44M104.1 592.44H109.7" stroke="#3A3A3A" stroke-width="1" fill="none"/>
<text x="106.9" y="584.97" text-anchor="middle" font-size="10" class="l">ab</text>
<path d="M112.65 589.59H118.25M115.45 589.59V590.59M112.65 590.59H118.25" stroke="#3A3A3A" stroke-width="1" fill="none"/>
<text x="115.45" y="586.39" text-anchor="middle" font-size="10" class="l">a</text>
<rect x="134.14" y="609.26" width="6.8" height="29.04" fill="#A5A5A5"/>
<rect x="142.69" y="590.2" width="6.8" height="48.1" fill="#ED7D31"/>
<rect x="151.24" y="581.32" width="6.8" height="56.98" fill="#7F7F7F"/>
<rect x="159.79" y="580.77" width="6.8" height="57.52" fill="#FFC000"/>
<rect x="168.34" y="581.87" width="6.8" height="56.43" fill="#93E0E0"/>
<rect x="176.89" y="576.61" width="6.8" height="61.69" fill="#70AD47"/>
<path d="M134.74 608.06H140.34M137.54 608.06V610.47M134.74 610.47H140.34" stroke="#3A3A3A" stroke-width="1" fill="none"/>
<text x="137.54" y="604.86" text-anchor="middle" font-size="10" class="l">d</text>
<path d="M143.29 588.99H148.89M146.09 588.99V591.4M143.29 591.4H148.89" stroke="#3A3A3A" stroke-width="1" fill="none"/>
<text x="146.09" y="585.79" text-anchor="middle" font-size="10" class="l">c</text>
<path d="M151.84 579.41H157.44M154.64 579.41V583.24M151.84 583.24H157.44" stroke="#3A3A3A" stroke-width="1" fill="none"/>
<text x="154.64" y="576.21" text-anchor="middle" font-size="10" class="l">b</text>
<path d="M160.39 578.25H165.99M163.19 578.25V583.3M160.39 583.3H165.99" stroke="#3A3A3A" stroke-width="1" fill="none"/>
<text x="163.19" y="575.05" text-anchor="middle" font-size="10" class="l">b</text>
<path d="M168.94 580.45H174.54M171.74 580.45V583.3M168.94 583.3H174.54" stroke="#3A3A3A" stroke-width="1" fill="none"/>
<text x="171.74" y="577.25" text-anchor="middle" font-size="10" class="l">b</text>
<path d="M177.49 574.91H183.09M180.29 574.91V578.31M177.49 578.31H183.09" stroke="#3A3A3A" stroke-width="1" fill="none"/>
<text x="180.29" y="571.71" text-anchor="middle" font-size="10" class="l">a</text>
<rect x="198.98" y="607.18" width="6.8" height="31.12" fill="#A5A5A5"/>
<rect x="207.53" y="560.5" width="6.8" height="77.8" fill="#ED7D31"/>
<rect x="216.08" y="556.12" width="6.8" height="82.18" fill="#7F7F7F"/>
<rect x="224.63" y="551.19" width="6.8" height="87.11" fill="#FFC000"/>
<rect x="233.18" y="551.19" width="6.8" height="87.11" fill="#93E0E0"/>
<rect x="241.73" y="547.9" width="6.8" height="90.4" fill="#70AD47"/>
<path d="M199.58 606.68H205.18M202.38 606.68V607.68M199.58 607.68H205.18" stroke="#3A3A3A" stroke-width="1" fill="none"/>
<text x="202.38" y="603.48" text-anchor="middle" font-size="10" class="l">d</text>
<path d="M208.13 557.44H213.73M210.93 557.44V563.57M208.13 563.57H213.73" stroke="#3A3A3A" stroke-width="1" fill="none"/>
<text x="210.93" y="554.24" text-anchor="middle" font-size="10" class="l">c</text>
<path d="M216.68 553.93H222.28M219.48 553.93V558.31M216.68 558.31H222.28" stroke="#3A3A3A" stroke-width="1" fill="none"/>
<text x="219.48" y="550.73" text-anchor="middle" font-size="10" class="l">b</text>
<path d="M225.23 549H230.83M228.03 549V553.38M225.23 553.38H230.83" stroke="#3A3A3A" stroke-width="1" fill="none"/>
<text x="228.03" y="545.8" text-anchor="middle" font-size="10" class="l">ab</text>
<path d="M233.78 549H239.38M236.58 549V553.38M233.78 553.38H239.38" stroke="#3A3A3A" stroke-width="1" fill="none"/>
<text x="236.58" y="545.8" text-anchor="middle" font-size="10" class="l">ab</text>
<path d="M242.33 544.18H247.93M245.13 544.18V551.63M242.33 551.63H247.93" stroke="#3A3A3A" stroke-width="1" fill="none"/>
<text x="245.13" y="540.98" text-anchor="middle" font-size="10" class="l">a</text>
<rect x="263.83" y="608.72" width="6.8" height="29.58" fill="#A5A5A5"/>
<rect x="272.38" y="544.29" width="6.8" height="94.01" fill="#ED7D31"/>
<rect x="280.93" y="533.88" width="6.8" height="104.42" fill="#7F7F7F"/>
<rect x="289.48" y="529.5" width="6.8" height="108.8" fill="#FFC000"/>
<rect x="298.03" y="520.18" width="6.8" height="118.12" fill="#93E0E0"/>
<rect x="306.58" y="503.64" width="6.8" height="134.66" fill="#70AD47"/>
<path d="M264.43 605.87H270.03M267.23 605.87V611.56M264.43 611.56H270.03" stroke="#3A3A3A" stroke-width="1" fill="none"/>
<text x="267.23" y="602.67" text-anchor="middle" font-size="10" class="l">e</text>
<path d="M272.98 542.64H278.58M275.78 542.64V545.93M272.98 545.93H278.58" stroke="#3A3A3A" stroke-width="1" fill="none"/>
<text x="275.78" y="539.44" text-anchor="middle" font-size="10" class="l">d</text>
<path d="M281.53 530.15H287.13M284.33 530.15V537.6M281.53 537.6H287.13" stroke="#3A3A3A" stroke-width="1" fill="none"/>
<text x="284.33" y="526.95" text-anchor="middle" font-size="10" class="l">c</text>
<path d="M290.08 526.32H295.68M292.88 526.32V532.67M290.08 532.67H295.68" stroke="#3A3A3A" stroke-width="1" fill="none"/>
<text x="292.88" y="523.12" text-anchor="middle" font-size="10" class="l">c</text>
<path d="M298.63 518.54H304.23M301.43 518.54V521.83M298.63 521.83H304.23" stroke="#3A3A3A" stroke-width="1" fill="none"/>
<text x="301.43" y="515.34" text-anchor="middle" font-size="10" class="l">b</text>
<path d="M307.18 501.34H312.78M309.98 501.34V505.94M307.18 505.94H312.78" stroke="#3A3A3A" stroke-width="1" fill="none"/>
<text x="309.98" y="498.14" text-anchor="middle" font-size="10" class="l">a</text>
<rect x="328.67" y="607.95" width="6.8" height="30.35" fill="#A5A5A5"/>
<rect x="337.22" y="602.69" width="6.8" height="35.61" fill="#ED7D31"/>
<rect x="345.77" y="594.91" width="6.8" height="43.39" fill="#7F7F7F"/>
<rect x="354.32" y="593.38" width="6.8" height="44.92" fill="#FFC000"/>
<rect x="362.87" y="593.7" width="6.8" height="44.6" fill="#93E0E0"/>
<rect x="371.42" y="592.06" width="6.8" height="46.24" fill="#70AD47"/>
<path d="M329.27 606.41H334.87M332.07 606.41V609.48M329.27 609.48H334.87" stroke="#3A3A3A" stroke-width="1" fill="none"/>
<text x="332.07" y="603.21" text-anchor="middle" font-size="10" class="l">b</text>
<path d="M337.82 600.06H343.42M340.62 600.06V605.32M337.82 605.32H343.42" stroke="#3A3A3A" stroke-width="1" fill="none"/>
<text x="340.62" y="596.86" text-anchor="middle" font-size="10" class="l">ab</text>
<path d="M346.37 593.49H351.97M349.17 593.49V596.33M346.37 596.33H351.97" stroke="#3A3A3A" stroke-width="1" fill="none"/>
<text x="349.17" y="590.29" text-anchor="middle" font-size="10" class="l">a</text>
<path d="M354.92 591.29H360.52M357.72 591.29V595.46M354.92 595.46H360.52" stroke="#3A3A3A" stroke-width="1" fill="none"/>
<text x="357.72" y="588.09" text-anchor="middle" font-size="10" class="l">a</text>
<path d="M363.47 591.18H369.07M366.27 591.18V596.22M363.47 596.22H369.07" stroke="#3A3A3A" stroke-width="1" fill="none"/>
<text x="366.27" y="587.98" text-anchor="middle" font-size="10" class="l">a</text>
<path d="M372.02 589.43H377.62M374.82 589.43V594.69M372.02 594.69H377.62" stroke="#3A3A3A" stroke-width="1" fill="none"/>
<text x="374.82" y="586.23" text-anchor="middle" font-size="10" class="l">a</text>
<rect x="393.52" y="609.7" width="6.8" height="28.6" fill="#A5A5A5"/>
<rect x="402.07" y="599.95" width="6.8" height="38.35" fill="#ED7D31"/>
<rect x="410.62" y="593.38" width="6.8" height="44.92" fill="#7F7F7F"/>
<rect x="419.17" y="588.34" width="6.8" height="49.96" fill="#FFC000"/>
<rect x="427.72" y="584.72" width="6.8" height="53.58" fill="#93E0E0"/>
<rect x="436.27" y="581.32" width="6.8" height="56.98" fill="#70AD47"/>
<path d="M394.12 609.2H399.72M396.92 609.2V610.2M394.12 610.2H399.72" stroke="#3A3A3A" stroke-width="1" fill="none"/>
<text x="396.92" y="606" text-anchor="middle" font-size="10" class="l">e</text>
<path d="M402.67 598.25H408.27M405.47 598.25V601.65M402.67 601.65H408.27" stroke="#3A3A3A" stroke-width="1" fill="none"/>
<text x="405.47" y="595.05" text-anchor="middle" font-size="10" class="l">d</text>
<path d="M411.22 590.86H416.82M414.02 590.86V595.9M411.22 595.9H416.82" stroke="#3A3A3A" stroke-width="1" fill="none"/>
<text x="414.02" y="587.66" text-anchor="middle" font-size="10" class="l">c</text>
<path d="M419.77 587.02H425.37M422.57 587.02V589.65M419.77 589.65H425.37" stroke="#3A3A3A" stroke-width="1" fill="none"/>
<text x="422.57" y="583.82" text-anchor="middle" font-size="10" class="l">b</text>
<path d="M428.32 583.08H433.92M431.12 583.08V586.36M428.32 586.36H433.92" stroke="#3A3A3A" stroke-width="1" fill="none"/>
<text x="431.12" y="579.88" text-anchor="middle" font-size="10" class="l">ab</text>
<path d="M436.87 579.3H442.47M439.67 579.3V583.35M436.87 583.35H442.47" stroke="#3A3A3A" stroke-width="1" fill="none"/>
<text x="439.67" y="576.1" text-anchor="middle" font-size="10" class="l">a</text>
<rect x="458.36" y="608.83" width="6.8" height="29.47" fill="#A5A5A5"/>
<rect x="466.91" y="588.77" width="6.8" height="49.53" fill="#ED7D31"/>
<rect x="475.46" y="574.86" width="6.8" height="63.44" fill="#7F7F7F"/>
<rect x="484.01" y="572.12" width="6.8" height="66.18" fill="#FFC000"/>
<rect x="492.56" y="572.89" width="6.8" height="65.41" fill="#93E0E0"/>
<rect x="501.11" y="564.01" width="6.8" height="74.29" fill="#70AD47"/>
<path d="M458.96 608.33H464.56M461.76 608.33V609.33M458.96 609.33H464.56" stroke="#3A3A3A" stroke-width="1" fill="none"/>
<text x="461.76" y="605.13" text-anchor="middle" font-size="10" class="l">d</text>
<path d="M467.51 588.27H473.11M470.31 588.27V589.27M467.51 589.27H473.11" stroke="#3A3A3A" stroke-width="1" fill="none"/>
<text x="470.31" y="585.07" text-anchor="middle" font-size="10" class="l">c</text>
<path d="M476.06 572.23H481.66M478.86 572.23V577.49M476.06 577.49H481.66" stroke="#3A3A3A" stroke-width="1" fill="none"/>
<text x="478.86" y="569.03" text-anchor="middle" font-size="10" class="l">b</text>
<path d="M484.61 570.75H490.21M487.41 570.75V573.49M484.61 573.49H490.21" stroke="#3A3A3A" stroke-width="1" fill="none"/>
<text x="487.41" y="567.55" text-anchor="middle" font-size="10" class="l">b</text>
<path d="M493.16 572.12H498.76M495.96 572.12V573.65M493.16 573.65H498.76" stroke="#3A3A3A" stroke-width="1" fill="none"/>
<text x="495.96" y="568.92" text-anchor="middle" font-size="10" class="l">b</text>
<path d="M501.71 562.26H507.31M504.51 562.26V565.76M501.71 565.76H507.31" stroke="#3A3A3A" stroke-width="1" fill="none"/>
<text x="504.51" y="559.06" text-anchor="middle" font-size="10" class="l">a</text>
<rect x="523.2" y="609.04" width="6.8" height="29.26" fill="#A5A5A5"/>
<rect x="531.75" y="577.6" width="6.8" height="60.7" fill="#ED7D31"/>
<rect x="540.3" y="557.76" width="6.8" height="80.53" fill="#7F7F7F"/>
<rect x="548.85" y="554.04" width="6.8" height="84.26" fill="#FFC000"/>
<rect x="557.4" y="542.97" width="6.8" height="95.33" fill="#93E0E0"/>
<rect x="565.95" y="539.58" width="6.8" height="98.72" fill="#70AD47"/>
<path d="M523.8 607.67H529.4M526.6 607.67V610.41M523.8 610.41H529.4" stroke="#3A3A3A" stroke-width="1" fill="none"/>
<text x="526.6" y="604.47" text-anchor="middle" font-size="10" class="l">d</text>
<path d="M532.35 576.39H537.95M535.15 576.39V578.8M532.35 578.8H537.95" stroke="#3A3A3A" stroke-width="1" fill="none"/>
<text x="535.15" y="573.19" text-anchor="middle" font-size="10" class="l">c</text>
<path d="M540.9 556.01H546.5M543.7 556.01V559.52M540.9 559.52H546.5" stroke="#3A3A3A" stroke-width="1" fill="none"/>
<text x="543.7" y="552.81" text-anchor="middle" font-size="10" class="l">b</text>
<path d="M549.45 551.3H555.05M552.25 551.3V556.78M549.45 556.78H555.05" stroke="#3A3A3A" stroke-width="1" fill="none"/>
<text x="552.25" y="548.1" text-anchor="middle" font-size="10" class="l">b</text>
<path d="M558 542.21H563.6M560.8 542.21V543.74M558 543.74H563.6" stroke="#3A3A3A" stroke-width="1" fill="none"/>
<text x="560.8" y="539.01" text-anchor="middle" font-size="10" class="l">a</text>
<path d="M566.55 537.82H572.15M569.35 537.82V541.33M566.55 541.33H572.15" stroke="#3A3A3A" stroke-width="1" fill="none"/>
<text x="569.35" y="534.62" text-anchor="middle" font-size="10" class="l">a</text>
<line x1="61.65" y1="484.3" x2="61.65" y2="683.7" stroke="#A0A0A0" stroke-width="1.3"/>
<line x1="61.65" y1="638.3" x2="580.4" y2="638.3" stroke="#A0A0A0" stroke-width="1.3"/>
<line x1="321.02" y1="638.3" x2="321.02" y2="683.7" stroke="#A0A0A0" stroke-width="1.3"/>
<line x1="580.4" y1="638.3" x2="580.4" y2="683.7" stroke="#A0A0A0" stroke-width="1.3"/>
<text x="94.07" y="657.1" text-anchor="middle" font-size="12.2" class="t">1</text>
<text x="158.92" y="657.1" text-anchor="middle" font-size="12.2" class="t">3</text>
<text x="223.76" y="657.1" text-anchor="middle" font-size="12.2" class="t">5</text>
<text x="288.6" y="657.1" text-anchor="middle" font-size="12.2" class="t">7</text>
<text x="353.45" y="657.1" text-anchor="middle" font-size="12.2" class="t">1</text>
<text x="418.29" y="657.1" text-anchor="middle" font-size="12.2" class="t">3</text>
<text x="483.13" y="657.1" text-anchor="middle" font-size="12.2" class="t">5</text>
<text x="547.98" y="657.1" text-anchor="middle" font-size="12.2" class="t">7</text>
<text x="191.34" y="679.8" text-anchor="middle" font-size="12.4" class="t">HN44</text>
<text x="450.71" y="679.8" text-anchor="middle" font-size="12.4" class="t">HN65</text>
<rect x="588.2" y="484.65" width="5.9" height="5.9" fill="#A5A5A5"/>
<text x="597.2" y="491.8" font-size="12.6" class="t">CK</text>
<rect x="588.2" y="511.25" width="5.9" height="5.9" fill="#ED7D31"/>
<text x="597.2" y="518.4" font-size="12.6" class="t">D</text>
<rect x="588.2" y="537.85" width="5.9" height="5.9" fill="#7F7F7F"/>
<text x="597.2" y="545" font-size="12.6" class="t">D+SNP100</text>
<rect x="588.2" y="564.45" width="5.9" height="5.9" fill="#FFC000"/>
<text x="597.2" y="571.6" font-size="12.6" class="t">D+SNP200</text>
<rect x="588.2" y="591.05" width="5.9" height="5.9" fill="#93E0E0"/>
<text x="597.2" y="598.2" font-size="12.6" class="t">D+SNP500</text>
<rect x="588.2" y="617.65" width="5.9" height="5.9" fill="#70AD47"/>
<text x="597.2" y="624.8" font-size="12.6" class="t">D+SNP1000</text>
</svg>
</body></html>
